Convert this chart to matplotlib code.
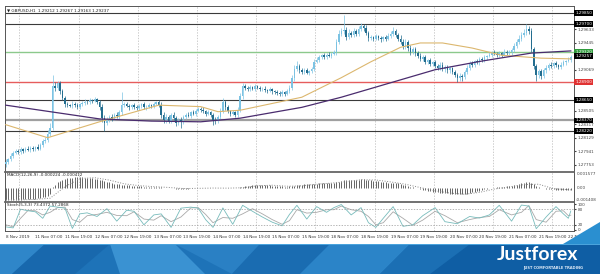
import numpy as np
import matplotlib.pyplot as plt
from matplotlib.patches import Polygon, Rectangle

# GBPUSD H1, 8 Nov 19:00 .. 22 Nov 08:00 -- closes in pips above 1.28000
close_pips = [
    -20, -17, -12, -8, -5, -7, -3, -5, -2, -4, -1, -3, 0, -2, 3, 8, 10, 18, 27, 85,
    82, 88, 78, 68, 60, 58, 57, 60, 58, 56, 59, 61, 63, 62, 65, 64, 66, 62, 55, 40,
    33, 38, 42, 40, 45, 43, 48, 58, 60, 57, 55, 58, 56, 54, 57, 59, 55, 56, 58, 57,
    60, 62, 58, 45, 38, 42, 36, 44, 40, 33, 38, 35, 42, 45, 43, 48, 46, 50, 53, 52,
    50, 46, 48, 44, 38, 36, 42, 50, 62, 55, 50, 46, 48, 44, 52, 70, 84, 82, 80, 83,
    81, 84, 82, 80, 81, 79, 78, 80, 77, 76, 75, 73, 76, 74, 78, 82, 95, 108, 112, 106,
    104, 107, 103, 105, 108, 118, 121, 124, 127, 125, 128, 126, 129, 131, 145, 156, 160, 162, 152, 158,
    155, 160, 157, 163, 167, 165, 158, 151, 152, 150, 153, 151, 149, 152, 150, 154, 157, 160, 155, 150,
    146, 140, 145, 137, 132, 135, 130, 126, 122, 124, 118, 120, 115, 117, 112, 110, 114, 108, 111, 106,
    109, 104, 100, 95, 99, 97, 104, 110, 116, 114, 119, 117, 122, 120, 124, 126, 128, 131, 129, 127,
    130, 128, 132, 130, 131, 134, 140, 146, 150, 155, 158, 163, 160, 135, 112, 100, 105, 98, 106, 110,
    114, 112, 116, 113, 111, 114, 117, 119, 121, 124,
]
first_open = -24
upper_wick = [
    3, 2, 4, 2, 3, 2, 3, 2, 2, 3, 2, 3, 2, 4, 3, 3, 4, 5, 6, 15,
    5, 4, 3, 3, 2, 3, 2, 4, 2, 3, 2, 3, 4, 2, 3, 2, 3, 2, 3, 4,
    4, 3, 3, 4, 2, 3, 3, 18, 3, 2, 3, 2, 3, 2, 3, 2, 3, 2, 3, 2,
    3, 2, 3, 4, 3, 4, 3, 3, 4, 3, 2, 3, 3, 2, 3, 2, 3, 3, 2, 3,
    3, 2, 3, 2, 3, 4, 3, 4, 6, 3, 3, 2, 3, 2, 4, 5, 5, 3, 2, 3,
    2, 3, 2, 3, 2, 3, 2, 3, 2, 2, 3, 2, 3, 2, 3, 4, 5, 6, 7, 3,
    3, 2, 3, 2, 3, 4, 3, 3, 2, 3, 2, 3, 3, 3, 5, 6, 4, 20, 4, 5,
    3, 4, 3, 4, 4, 3, 4, 3, 3, 2, 3, 2, 3, 2, 3, 4, 3, 6, 3, 3,
    5, 4, 5, 3, 4, 3, 3, 3, 4, 3, 3, 2, 3, 2, 3, 3, 4, 3, 3, 2,
    3, 2, 3, 3, 3, 2, 3, 4, 3, 3, 2, 3, 3, 2, 3, 2, 3, 2, 3, 2,
    3, 2, 3, 2, 3, 3, 4, 4, 5, 4, 5, 7, 5, 4, 4, 3, 3, 3, 3, 3,
    2, 3, 2, 3, 2, 3, 3, 2, 3, 3,
]
lower_wick = [
    4, 3, 2, 3, 2, 3, 2, 3, 2, 2, 3, 2, 3, 2, 2, 3, 2, 3, 3, 3,
    4, 3, 5, 3, 4, 3, 2, 3, 2, 3, 3, 2, 3, 2, 3, 3, 2, 3, 4, 5,
    11, 3, 3, 4, 3, 3, 4, 3, 3, 2, 3, 2, 3, 2, 3, 3, 2, 3, 2, 3,
    3, 2, 3, 5, 4, 4, 3, 3, 3, 4, 3, 9, 3, 3, 2, 3, 2, 3, 2, 3,
    3, 3, 2, 3, 7, 4, 3, 3, 3, 4, 3, 3, 2, 3, 3, 3, 3, 3, 2, 3,
    2, 3, 2, 3, 2, 3, 3, 2, 3, 2, 3, 3, 2, 3, 2, 3, 3, 3, 3, 3,
    3, 3, 2, 3, 2, 3, 2, 3, 2, 3, 3, 2, 3, 2, 3, 3, 3, 3, 4, 3,
    3, 3, 3, 3, 3, 4, 3, 4, 3, 3, 2, 3, 3, 2, 3, 2, 3, 3, 3, 3,
    3, 4, 4, 4, 4, 3, 4, 3, 3, 3, 3, 3, 3, 3, 3, 3, 3, 3, 4, 3,
    4, 3, 3, 5, 3, 5, 3, 3, 3, 3, 3, 2, 3, 3, 2, 3, 2, 3, 2, 3,
    2, 3, 2, 3, 2, 3, 3, 3, 3, 3, 3, 3, 3, 4, 4, 8, 5, 4, 3, 3,
    3, 2, 3, 2, 3, 3, 2, 3, 2, 3,
]

# moving averages (bar index, pips above 1.28000)
slow_ma_bars = [0, 18, 38, 59, 79, 95, 120, 136, 160, 174, 193, 213, 229]
slow_ma_pips = [58, 49, 39, 36, 35, 40, 55, 69, 93, 107, 119, 130, 133]
fast_ma_bars = [0, 17, 38, 62, 79, 86, 95, 120, 136, 148, 160, 168, 177, 189, 201, 217, 229]
fast_ma_pips = [31, 13, 35, 58, 56, 49, 51, 69, 96, 118, 138, 144, 144, 137, 127, 123, 122]

# horizontal levels
level_prices = [1.29850, 1.29700, 1.29320, 1.28900, 1.28650, 1.28370, 1.28220]
level_kind = ["dark", "dark", "green", "red", "dark", "grey", "dark"]
last_price = 1.29257
price_ticks = [1.29633, 1.29445, 1.29069, 1.28505, 1.28317, 1.28129, 1.27941, 1.27753]

# MACD histogram, 1e-5 units
macd_hist = [
    -120, -122, -123, -122, -120, -118, -117, -115, -113, -112, -110, -108, -106, -104, -100, -95, -88, -78, -64,
    5, 30, 55, 70, 80, 88, 94, 98, 101, 103, 104,
    104, 103, 102, 100, 98, 96, 93, 89, 83, 75,
    67, 60, 54, 48, 43, 38, 35, 33, 31, 28,
    25, 23, 21, 18, 16, 15, 13, 12, 11, 10,
    10, 10, 9, 6, 2, 0, -3, -4, -6, -8,
    -9, -10, -10, -9, -8, -6, -5, -3, -2, -1,
    -1, -2, -2, -3, -5, -6, -6, -4, -1, 0,
    0, -1, -1, -1, 1, 6, 12, 17, 20, 23,
    25, 27, 28, 28, 28, 27, 26, 25, 23, 21,
    19, 16, 15, 13, 13, 14, 17, 22, 27, 30,
    32, 34, 35, 36, 37, 40, 43, 45, 47, 48,
    49, 49, 50, 51, 55, 62, 70, 76, 78, 80,
    81, 82, 82, 83, 84, 84, 83, 80, 77, 73,
    70, 66, 62, 59, 55, 53, 52, 51, 48, 44,
    38, 31, 26, 19, 12, 7, 1, -6, -12, -18,
    -24, -29, -34, -38, -42, -46, -48, -51, -53, -55,
    -57, -59, -62, -65, -66, -66, -63, -58, -52, -46,
    -40, -34, -28, -22, -16, -10, -5, -1, 3, 6,
    9, 11, 13, 15, 17, 19, 24, 30, 37, 44,
    51, 57, 58, 48, 34, 20, 10, 1, -5, -9,
    -12, -14, -16, -18, -19, -20, -21, -21, -22, -22,
]
macd_sig_bars = [0, 6, 12, 18, 24, 30, 36, 42, 48, 54, 60, 66, 72, 78, 84, 90, 96, 102, 108, 114,
                 120, 126, 132, 138, 144, 150, 156, 162, 168, 174, 180, 186, 192, 198, 204, 210, 216, 222, 229]
macd_sig = [-118, -120, -115, -103, 11, 93, 101, 77, 40, 22, 12, 4, -7, -5, -2, -3, 1, 21, 26, 16,
            20, 37, 47, 61, 81, 78, 59, 36, 3, -30, -52, -64, -45, -12, 9, 33, 36, -8, -20]

# stochastic (5,3,3)
stoch_bars = [0, 3, 6, 9, 12, 15, 18, 21, 24, 27, 30, 33, 37, 41, 45, 49, 52, 56, 60, 63,
              67, 71, 75, 78, 81, 84, 88, 92, 96, 100, 104, 108, 112, 115, 118, 122, 126, 130, 133, 136,
              140, 144, 147, 150, 153, 157, 161, 165, 169, 174, 178, 183, 188, 192, 196, 200, 205, 209, 212, 215,
              219, 223, 226, 228, 229]
stoch_main = [12, 8, 80, 74, 70, 45, 92, 88, 84, 6, 62, 66, 52, 82, 34, 76, 72, 20, 58, 62,
              10, 84, 88, 84, 40, 10, 85, 22, 95, 72, 50, 30, 16, 60, 95, 42, 90, 68, 86, 98,
              58, 86, 28, 10, 45, 90, 14, 20, 55, 86, 32, 24, 52, 46, 58, 95, 34, 96, 92, 5,
              50, 90, 62, 45, 73]
stoch_signal = [20, 12, 45, 75, 74, 58, 68, 86, 88, 40, 30, 55, 60, 68, 56, 55, 70, 42, 38, 55,
                32, 50, 85, 86, 60, 28, 48, 45, 62, 82, 62, 40, 22, 36, 78, 65, 68, 78, 78, 92,
                78, 72, 52, 20, 28, 70, 45, 18, 38, 72, 55, 28, 40, 48, 52, 78, 58, 68, 94, 40,
                30, 72, 74, 55, 57]

label_bars = [0, 12, 24, 36, 48, 60, 72, 84, 96, 108, 120, 132, 144, 156, 168, 180, 192, 204, 216, 228]
time_labels = ["8 Nov 2019", "11 Nov 07:00", "11 Nov 19:00", "12 Nov 07:00", "12 Nov 19:00",
               "13 Nov 07:00", "13 Nov 19:00", "14 Nov 07:00", "14 Nov 19:00", "15 Nov 07:00",
               "15 Nov 19:00", "18 Nov 07:00", "18 Nov 19:00", "19 Nov 07:00", "19 Nov 19:00",
               "20 Nov 07:00", "20 Nov 19:00", "21 Nov 07:00", "21 Nov 19:00", "22 Nov 07:00"]

W, H = 600, 274
fig = plt.figure(figsize=(6, 2.74), dpi=100)
fig.patch.set_facecolor("white")


def px_rect(x0, y0, x1, y1):
    return [x0 / W, 1 - y1 / H, (x1 - x0) / W, (y1 - y0) / H]


ax = fig.add_axes(px_rect(5, 6, 574, 172))
ax_m = fig.add_axes(px_rect(5, 172, 574, 202), sharex=ax)
ax_s = fig.add_axes(px_rect(5, 202, 574, 231), sharex=ax)

x = np.arange(len(close_pips))
c = 1.28 + np.array(close_pips) / 1e4
o = 1.28 + np.array([first_open] + close_pips[:-1]) / 1e4
hi = np.maximum(o, c) + np.array(upper_wick) / 1e4
lo = np.minimum(o, c) - np.array(lower_wick) / 1e4
col = np.where(c >= o, "#7cc3e3", "#236d8f")

for a in (ax, ax_m, ax_s):
    for g in np.arange(5.5, 231, 24):
        a.axvline(g, color="#b8b8b8", lw=0.5, ls=(0, (2, 2)), zorder=0)
    for s in a.spines.values():
        s.set_color("#555555")
        s.set_linewidth(0.7)
    a.tick_params(axis="x", bottom=False, labelbottom=False)

lc = {"dark": "#3a3a3a", "green": "#8cc98c", "red": "#e65c5c", "grey": "#a0a0a0"}
lw_ = {"dark": 0.8, "green": 1.0, "red": 1.0, "grey": 1.6}
tagc = {"dark": "black", "green": "#2f9a3c", "red": "#e03232", "grey": "black"}
for lv, k in zip(level_prices, level_kind):
    ax.axhline(lv, color=lc[k], lw=lw_[k], zorder=1)

ax.vlines(x, lo, hi, colors=col, lw=0.5, zorder=3)
ax.bar(x, np.maximum(np.abs(c - o), 0.00004), bottom=np.minimum(o, c), width=0.62,
       color=col, linewidth=0, zorder=4)
ax.plot(fast_ma_bars, 1.28 + np.array(fast_ma_pips) / 1e4, color="#dcb76e", lw=0.8, zorder=5)
ax.plot(slow_ma_bars, 1.28 + np.array(slow_ma_pips) / 1e4, color="#4a2c6e", lw=0.9, zorder=5)

ax.set_xlim(-0.3, 230.3)
ax.set_ylim(1.27656, 1.29951)
ax.yaxis.tick_right()
ax.set_yticks(price_ticks)
ax.set_yticklabels([f"{v:.5f}" for v in price_ticks])
ax.tick_params(axis="y", labelsize=3, length=1.5, pad=1, colors="#444444")

tr = ax.get_yaxis_transform()
for lv, k in zip(level_prices, level_kind):
    ax.text(1.002, lv, f"{lv:.5f}", transform=tr, fontsize=3, color="white", va="center",
            ha="left", clip_on=False, bbox=dict(boxstyle="square,pad=0.2", fc=tagc[k], ec="none"))
ax.text(1.002, last_price, f"{last_price:.5f}", transform=tr, fontsize=3, color="white",
        va="center", ha="left", clip_on=False,
        bbox=dict(boxstyle="square,pad=0.2", fc="black", ec="none"))
ax.text(0.004, 0.985, "\u25bc GBPUSD,H1  1.29212 1.29267 1.29163 1.29237", transform=ax.transAxes,
        fontsize=3, va="top", ha="left", color="#222222")

# MACD
mh = np.array(macd_hist) / 1e5
ax_m.vlines(x, 0, mh, colors="#3c3c3c", lw=0.55)
ax_m.plot(macd_sig_bars, np.array(macd_sig) / 1e5, color="#8a8a8a", lw=0.7, ls=":")
ax_m.set_ylim(-0.001408, 0.001577)
ax_m.set_yticks([])
ax_m.spines["top"].set_linewidth(1.3)
ax_m.spines["top"].set_color("#666666")
trm = ax_m.get_yaxis_transform()
ax_m.text(1.004, 0.00155, "0.001577", transform=trm, fontsize=3, va="top", color="#444444", clip_on=False)
ax_m.text(1.004, 0.0, "0.00", transform=trm, fontsize=3, va="center", color="#444444", clip_on=False)
ax_m.text(1.004, -0.00139, "-0.001408", transform=trm, fontsize=3, va="bottom", color="#444444", clip_on=False)
ax_m.text(0.004, 0.95, "MACD(12,26,9) -0.000224 -0.000412", transform=ax_m.transAxes,
          fontsize=3, va="top", color="#222222")

# Stochastic
ax_s.plot(stoch_bars, stoch_signal, color="#a9a9a9", lw=0.6)
ax_s.plot(stoch_bars, stoch_main, color="#78bcbc", lw=0.6)
for lv in (80, 20):
    ax_s.axhline(lv, color="#999999", lw=0.5, ls=(0, (2, 2)))
ax_s.set_ylim(-3.9, 107.7)
ax_s.yaxis.tick_right()
ax_s.set_yticks([100, 80, 20, 0])
ax_s.set_yticklabels(["100", "80", "20", "0"])
ax_s.tick_params(axis="y", labelsize=3, length=1.5, pad=1, colors="#444444")
ax_s.spines["top"].set_linewidth(1.3)
ax_s.spines["top"].set_color("#666666")
ax_s.text(0.004, 0.95, "Stoch(5,3,3) 73.4372 57.2868", transform=ax_s.transAxes,
          fontsize=3, va="top", color="#222222")

trx = ax_s.get_xaxis_transform()
for b, t in zip(label_bars, time_labels):
    ax_s.text(b, -0.13, t, transform=trx, fontsize=3, ha="left", va="top", color="#333333",
              clip_on=False)

# footer banner
ax_f = fig.add_axes([0, 0, 1, 30 / H])
ax_f.set_xlim(0, 600)
ax_f.set_ylim(30, 0)
ax_f.axis("off")
ax_f.add_patch(Rectangle((0, 0), 600, 30, fc="#1e73b8", ec="none"))
facets = [
    ([(0, 0), (45, 0), (12, 30), (0, 30)], "#2f86c9"),
    ([(45, 0), (110, 0), (75, 30), (12, 30)], "#1868ad"),
    ([(110, 0), (175, 0), (205, 30), (120, 30)], "#3a92d2"),
    ([(175, 0), (260, 0), (232, 30)], "#2a80c4"),
    ([(260, 0), (330, 0), (300, 30), (232, 30)], "#1a6cb1"),
    ([(330, 0), (410, 0), (380, 30), (300, 30)], "#2b84c8"),
    ([(410, 0), (470, 0), (430, 30), (380, 30)], "#1b6fb4"),
    ([(430, 30), (470, 0), (600, 0), (600, 30)], "#0f5ea4"),
    ([(0, 0), (600, 0), (600, 1.2), (0, 1.2)], "#4aa3dc"),
]
for pts, fc in facets:
    ax_f.add_patch(Polygon(pts, closed=True, fc=fc, ec="none"))
fig.add_artist(Polygon([[563 / W, 1 - 244 / H], [600 / W, 1 - 222 / H], [600 / W, 1 - 244 / H]],
                       closed=True, transform=fig.transFigure, fc="#2a8fd0", ec="none"))
ax_f.text(537, 11, "Justforex", ha="center", va="center", color="white", fontsize=14,
          fontweight="bold", family="Lato")
ax_f.text(553, 24.5, "JUST COMFORTABLE TRADING", ha="center", va="center", color="#dce9f6",
          fontsize=2.6, fontweight="bold")

fig.savefig("out.png", dpi=100, facecolor="white")
